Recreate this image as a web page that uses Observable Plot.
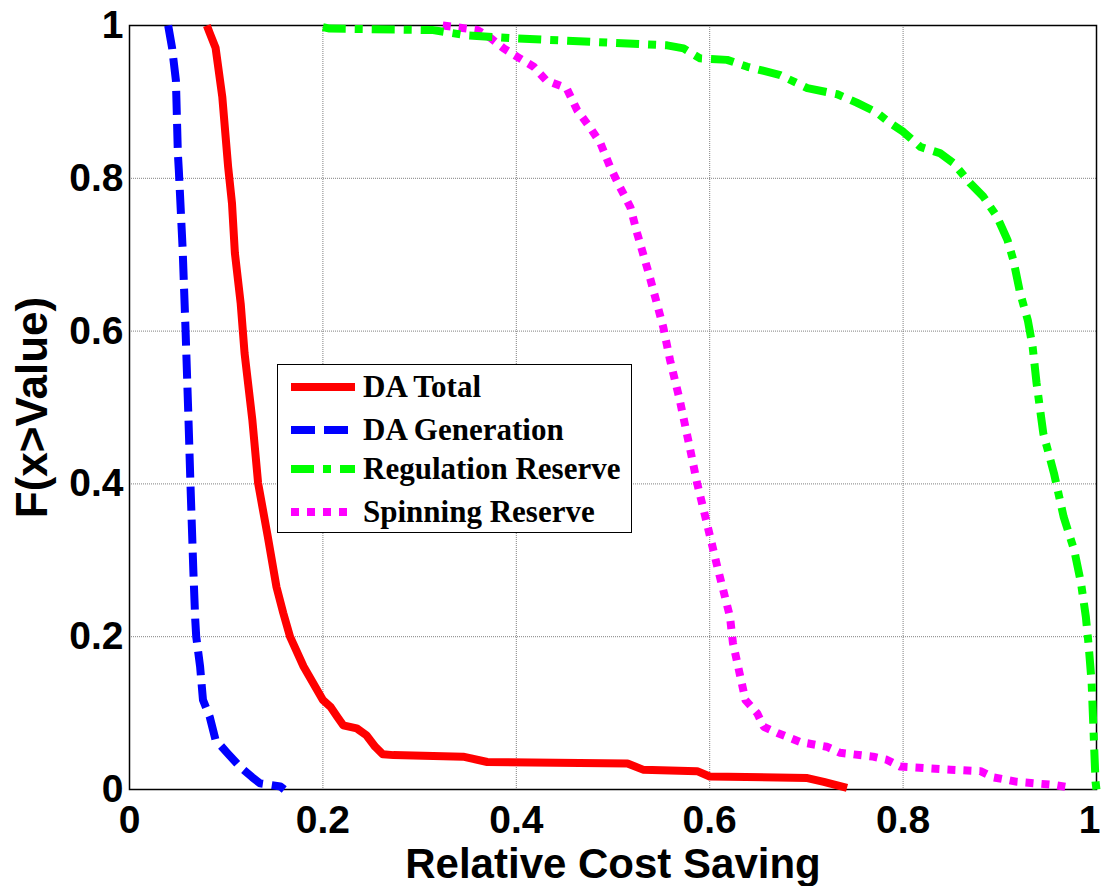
<!DOCTYPE html>
<html>
<head>
<meta charset="utf-8">
<script src="https://cdn.jsdelivr.net/npm/d3@7"></script>
<script src="https://cdn.jsdelivr.net/npm/@observablehq/plot@0.6"></script>
<style>
  html, body { margin: 0; padding: 0; background: #fff; }
  #wrap { position: relative; width: 1101px; height: 886px; }
  #legend {
    position: absolute; left: 277px; top: 364px; width: 355px; height: 169px;
    border: 1.5px solid #000; background: #fff; box-sizing: border-box;
    font-family: "Liberation Serif", "Times New Roman", serif; font-weight: bold; font-size: 31px;
  }
  .row { position: absolute; left: 0; height: 40px; display: flex; align-items: center; }
  .row svg { margin-left: 13px; margin-right: 8px; }
</style>
</head>
<body>
<div id="wrap">
  <div id="chart"></div>
  <div id="legend"></div>
</div>
<script>
// ---- Data ----
const seriesNames = ["DA Total", "DA Generation", "Regulation Reserve", "Spinning Reserve"];
const seriesColors = ["#ff0000", "#0000ff", "#00ff00", "#ff00ff"];
const seriesDash = [null, "24,9", "23,9,8,9", "8,8"];

const daTotalX = [0.080,0.083,0.089,0.096,0.102,0.106,0.109,0.115,0.119,0.127,0.133,0.143,0.152,0.159,0.166,0.180,0.200,0.208,0.215,0.221,0.235,0.245,0.254,0.262,0.273,0.345,0.370,0.515,0.531,0.587,0.600,0.701,0.718,0.742];
const daTotalY = [1.000,0.990,0.971,0.906,0.815,0.767,0.702,0.636,0.571,0.484,0.401,0.331,0.265,0.231,0.200,0.161,0.117,0.108,0.095,0.084,0.080,0.071,0.056,0.046,0.045,0.043,0.036,0.034,0.026,0.024,0.017,0.015,0.010,0.002];

const daGenX = [0.040,0.044,0.048,0.050,0.051,0.055,0.058,0.061,0.063,0.066,0.068,0.069,0.073,0.076,0.083,0.089,0.101,0.114,0.127,0.135,0.156,0.160];
const daGenY = [1.000,0.971,0.928,0.833,0.811,0.706,0.600,0.484,0.401,0.287,0.222,0.200,0.161,0.117,0.095,0.065,0.048,0.030,0.016,0.008,0.004,0.000];

const regX = [0.200,0.207,0.314,0.349,0.401,0.556,0.573,0.590,0.618,0.639,0.673,0.701,0.732,0.752,0.773,0.787,0.800,0.818,0.838,0.852,0.869,0.883,0.897,0.908,0.914,0.921,0.929,0.934,0.938,0.945,0.956,0.966,0.977,0.984,0.989,0.992,0.995,0.997,0.999,1.000];
const regY = [0.998,0.996,0.994,0.987,0.983,0.974,0.970,0.957,0.955,0.946,0.935,0.918,0.910,0.899,0.886,0.872,0.861,0.841,0.833,0.820,0.794,0.776,0.750,0.719,0.693,0.650,0.614,0.579,0.532,0.466,0.414,0.357,0.313,0.270,0.226,0.187,0.139,0.074,0.010,0.000];

const spinX = [0.324,0.360,0.373,0.387,0.401,0.418,0.431,0.452,0.463,0.476,0.487,0.497,0.507,0.518,0.525,0.538,0.552,0.559,0.569,0.580,0.587,0.597,0.608,0.621,0.624,0.637,0.649,0.656,0.670,0.694,0.721,0.735,0.769,0.783,0.797,0.849,0.880,0.893,0.918,0.956,0.975];
const spinY = [1.000,0.994,0.984,0.970,0.959,0.946,0.928,0.918,0.889,0.867,0.846,0.815,0.789,0.762,0.728,0.671,0.605,0.562,0.510,0.444,0.401,0.349,0.291,0.226,0.192,0.117,0.100,0.082,0.074,0.062,0.056,0.048,0.043,0.039,0.030,0.026,0.024,0.016,0.010,0.006,0.002];

const xTicks = [0, 0.2, 0.4, 0.6, 0.8];
const xTicksEdge = [1];
const yTicks = [0, 0.2, 0.4, 0.6, 0.8, 1];
const gridTicks = [0.2, 0.4, 0.6, 0.8];
const xLabel = "Relative Cost Saving";
const yLabel = "F(x>Value)";

// ---- Build tables ----
const allX = [daTotalX, daGenX, regX, spinX];
const allY = [daTotalY, daGenY, regY, spinY];
const tables = allX.map((xs, i) => xs.map((x, j) => ({x, y: allY[i][j], s: seriesNames[i]})));

const fmt = d => (d === 0 ? "0" : d === 1 ? "1" : String(d));
const sansBold = "'Liberation Sans', Arial, sans-serif";

const lineMarks = [0, 1, 3, 2].map(i => Plot.line(tables[i], {
  x: "x", y: "y", stroke: seriesColors[i], strokeWidth: 8,
  strokeDasharray: seriesDash[i] || undefined,
  strokeLinejoin: "round", strokeLinecap: "butt"
}));

const axisXOpts = {tickFormat: fmt, tickSize: 0, tickPadding: 16, fontSize: 39, fontWeight: "bold", label: null, fill: "#000"};

const chart = Plot.plot({
  width: 1101,
  height: 886,
  marginLeft: 129,
  marginRight: 5,
  marginTop: 25,
  marginBottom: 97,
  style: {fontFamily: sansBold, fontWeight: "bold", background: "#fff"},
  x: {domain: [0, 1]},
  y: {domain: [0, 1]},
  marks: [
    Plot.gridX(gridTicks, {stroke: "#808080", strokeOpacity: 1, strokeWidth: 1, strokeDasharray: "1,1"}),
    Plot.gridY(gridTicks, {stroke: "#808080", strokeOpacity: 1, strokeWidth: 1, strokeDasharray: "1,1"}),
    Plot.axisX({...axisXOpts, ticks: xTicks}),
    Plot.axisX({...axisXOpts, ticks: xTicksEdge, dx: -7}),
    Plot.axisY({ticks: yTicks, tickFormat: fmt, tickSize: 0, tickPadding: 6, fontSize: 39, fontWeight: "bold", label: null, fill: "#000"}),
    Plot.frame({stroke: "#000", strokeWidth: 1.5}),
    ...lineMarks,
    Plot.text([xLabel], {frameAnchor: "bottom", dy: 75, fontSize: 42, fontWeight: "bold", fill: "#000", lineAnchor: "middle", textAnchor: "middle"}),
    Plot.text([yLabel], {frameAnchor: "left", dx: -97, rotate: -90, fontSize: 44, fontWeight: "bold", fill: "#000", lineAnchor: "middle", textAnchor: "middle"})
  ]
});
document.getElementById("chart").appendChild(chart);

// ---- Legend (HTML overlay) ----
const legend = document.getElementById("legend");
const rowTops = [2, 45, 84, 127];
seriesNames.forEach((name, i) => {
  const row = document.createElement("div");
  row.className = "row";
  row.style.top = rowTops[i] + "px";
  const dash = seriesDash[i] ? `stroke-dasharray="${seriesDash[i]}"` : "";
  row.innerHTML = `<svg width="64" height="12"><line x1="0" y1="6" x2="64" y2="6" stroke="${seriesColors[i]}" stroke-width="8" ${dash}/></svg><span>${name}</span>`;
  legend.appendChild(row);
});
</script>
</body>
</html>
